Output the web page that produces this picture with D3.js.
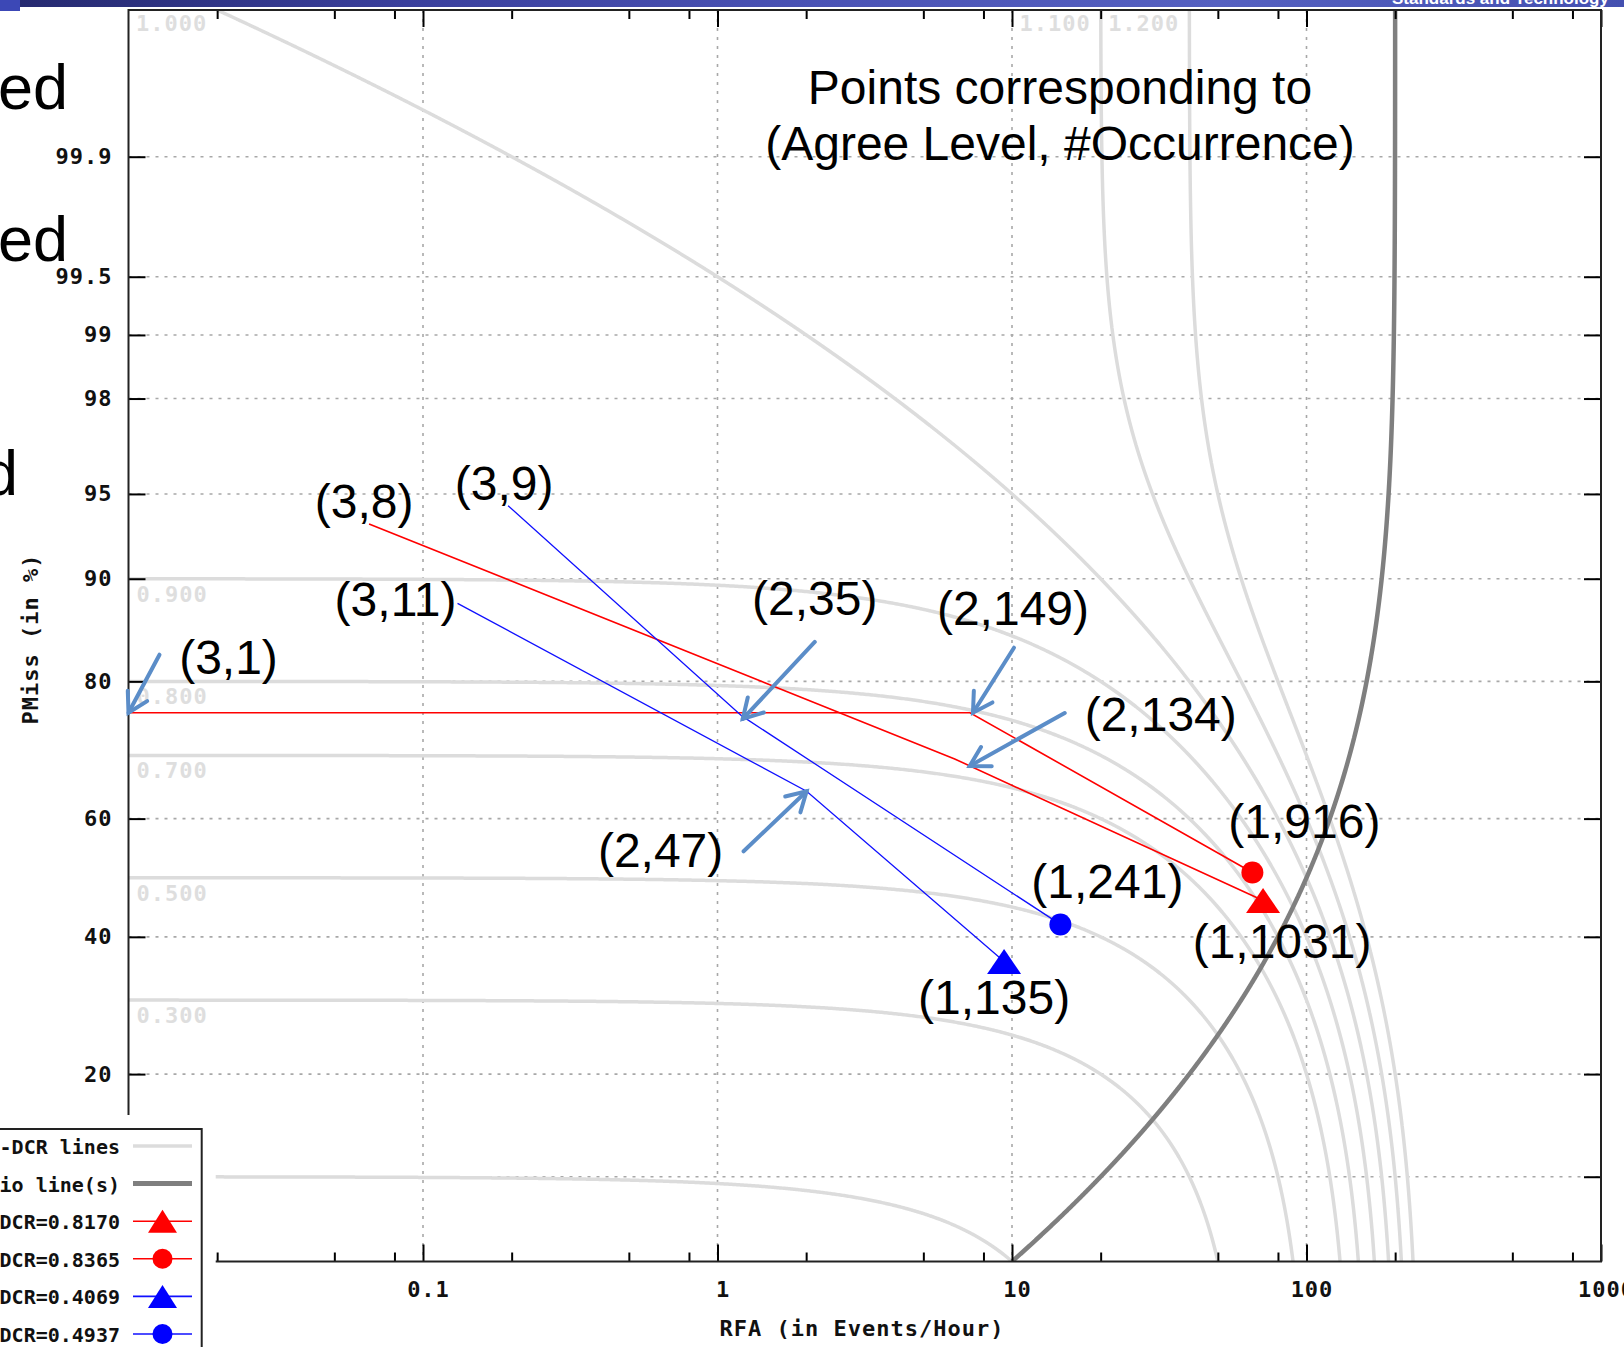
<!DOCTYPE html>
<html>
<head>
<meta charset="utf-8">
<script src="https://cdn.jsdelivr.net/npm/d3@7"></script>
<style>
  body { margin: 0; background: #fff; }
  svg { display: block; }
</style>
</head>
<body>
<svg id="chart" width="1624" height="1347"></svg>
<script>
// DET plot: miss probability (normal-deviate scale) against false-alarm rate (log scale),
// with iso-DCR cost lines, the miss/false-alarm ratio line and four system curves.

const beta = 0.005;                      // DCR = Pmiss + beta * RFA
const isoLevels = [0.1, 0.3, 0.5, 0.7, 0.8, 0.9, 1.0, 1.1, 1.2];

const xTickValues = [0.1, 1, 10, 100, 1000];
const xTickLabels = ["0.1", "1", "10", "100", "1000"];
const xMinorTicks = [0.02, 0.05, 0.08, 0.2, 0.5, 0.8, 2, 5, 8, 20, 50, 80, 200, 500, 800];
const yTickValues = [0.999, 0.995, 0.99, 0.98, 0.95, 0.9, 0.8, 0.6, 0.4, 0.2, 0.1];
const yTickLabels = ["99.9", "99.5", "99", "98", "95", "90", "80", "60", "40", "20", "10"];

const seriesNames  = ["DCR=0.8170", "DCR=0.8365", "DCR=0.4069", "DCR=0.4937"];
const agreeLevels  = [3, 2, 1];
const occurrences  = [[8, 134, 1031], [1, 149, 916], [11, 47, 135], [9, 35, 241]];
const rfaValues    = [[0.0656, 6.39, 71.2], [0.002, 7.2, 65.5], [0.131, 2.007, 9.4], [0.1945, 1.209, 14.6]];
const pmissValues  = [[0.9353, 0.6946, 0.461], [0.7603, 0.7603, 0.509], [0.8802, 0.6445, 0.3599], [0.9446, 0.756, 0.4207]];

const legendLines = ["-DCR lines", "io line(s)"];

// ---- styling ----
const seriesColor  = ["#ff0000", "#ff0000", "#1010ff", "#1010ff"];
const markerColor  = ["#ff0000", "#ff0000", "#0000ff", "#0000ff"];
const seriesSymbol = ["triangle", "circle", "triangle", "circle"];
const monoFont = "'DejaVu Sans Mono', monospace";
const sansFont = "'Liberation Sans', Arial, sans-serif";
const arrowColor = "#5b8dc8";

// label placement (pixel offsets from each point: label centre/baseline, optional arrow tail/tip)
const annotLayout = [
  [{l: [-5, -6]}, {l: [206, -28], tail: [110, -46], tip: [15, 7]}, {l: [19, 57]}],
  [{l: [100, -39], tail: [31, -58], tip: [0, 0]}, {l: [43, -88], tail: [44, -65], tip: [3, 0]}, {l: [52, -34]}],
  [{l: [-62, 13]}, {l: [-146, 76], tail: [-63, 60], tip: [0, 0]}, {l: [-10, 53]}],
  [{l: [-4, -6]}, {l: [73, -101], tail: [73, -74], tip: [1, 3]}, {l: [47, -26]}]
];

const W = 1624, H = 1347;
const plot = {left: 128.5, right: 1601, top: 10, bottom: 1261.5};
const legendBox = {x: -2, y: 1129, w: 203.7, h: 240, pad: 14};

// ---- normal deviate helpers ----
function probit(p) {
  const a = [-3.969683028665376e+01, 2.209460984245205e+02, -2.759285104469687e+02, 1.383577518672690e+02, -3.066479806614716e+01, 2.506628277459239e+00];
  const b = [-5.447609879822406e+01, 1.615858368580409e+02, -1.556989798598866e+02, 6.680131188771972e+01, -1.328068155288572e+01];
  const c = [-7.784894002430293e-03, -3.223964580411365e-01, -2.400758277161838e+00, -2.549671010624258e+00, 4.374664141464968e+00, 2.938163982698783e+00];
  const d = [7.784695709041462e-03, 3.224671290700398e-01, 2.445134137142996e+00, 3.754408661907416e+00];
  const pl = 0.02425, ph = 1 - pl;
  let q, r;
  if (p < pl) {
    q = Math.sqrt(-2 * Math.log(p));
    return (((((c[0]*q+c[1])*q+c[2])*q+c[3])*q+c[4])*q+c[5]) / ((((d[0]*q+d[1])*q+d[2])*q+d[3])*q+1);
  } else if (p <= ph) {
    q = p - 0.5; r = q * q;
    return (((((a[0]*r+a[1])*r+a[2])*r+a[3])*r+a[4])*r+a[5])*q / (((((b[0]*r+b[1])*r+b[2])*r+b[3])*r+b[4])*r+1);
  }
  q = Math.sqrt(-2 * Math.log(1 - p));
  return -(((((c[0]*q+c[1])*q+c[2])*q+c[3])*q+c[4])*q+c[5]) / ((((d[0]*q+d[1])*q+d[2])*q+d[3])*q+1);
}
function normCdf(z) {
  const t = 1 / (1 + 0.2316419 * Math.abs(z));
  const poly = t * (0.319381530 + t * (-0.356563782 + t * (1.781477937 + t * (-1.821255978 + t * 1.330274429))));
  const v = 1 - Math.exp(-z * z / 2) / Math.sqrt(2 * Math.PI) * poly;
  return z >= 0 ? v : 1 - v;
}
function probitScale(domain, range) {
  const lin = d3.scaleLinear().domain(domain.map(probit)).range(range);
  const s = p => lin(probit(p));
  s.domain = () => domain.slice();
  s.range = () => range.slice();
  s.copy = () => probitScale(domain, range);
  s.invert = py => normCdf(lin.invert(py));
  return s;
}

const x = d3.scaleLog().domain([0.01, 1000]).range([plot.left, plot.right]);
const y = probitScale([0.05, 0.9999], [plot.bottom, plot.top]);

const svg = d3.select("#chart");
const defs = svg.append("defs");
defs.append("clipPath").attr("id", "plotClip").append("rect")
  .attr("x", plot.left).attr("y", plot.top)
  .attr("width", plot.right - plot.left).attr("height", plot.bottom - plot.top);
defs.append("clipPath").attr("id", "bannerClip").append("rect")
  .attr("x", 0).attr("y", 0).attr("width", W).attr("height", 7);
const grad = defs.append("linearGradient").attr("id", "bannerGrad").attr("x1", 0).attr("x2", 1).attr("y1", 0).attr("y2", 0);
[["0", "#25296e"], ["0.25", "#3a3f9c"], ["0.5", "#4a52b4"], ["0.75", "#5560c0"], ["1", "#4450b0"]]
  .forEach(([o, c]) => grad.append("stop").attr("offset", o).attr("stop-color", c));

// ---- slide banner strip ----
svg.append("rect").attr("x", 0).attr("y", 0).attr("width", W).attr("height", 7).attr("fill", "url(#bannerGrad)");
svg.append("rect").attr("x", 0).attr("y", 0).attr("width", 20).attr("height", 11).attr("fill", "#3c48b6");
svg.append("text").attr("clip-path", "url(#bannerClip)")
  .attr("x", 1392).attr("y", 4).attr("fill", "#ffffff")
  .attr("font-family", sansFont).attr("font-weight", "bold").attr("font-size", 17)
  .text("Standards and Technology");

// ---- grid ----
const grid = svg.append("g").attr("stroke", "#a8a8a8").attr("stroke-width", 1.6).attr("stroke-dasharray", "3,6");
grid.selectAll("line.gv").data(xTickValues.filter(v => v < 1000)).join("line")
  .attr("x1", d => x(d)).attr("x2", d => x(d)).attr("y1", plot.top).attr("y2", plot.bottom);
grid.selectAll("line.gh").data(yTickValues).join("line")
  .attr("x1", plot.left).attr("x2", plot.right).attr("y1", d => y(d)).attr("y2", d => y(d));

// ---- iso-DCR lines ----
const pLo = 0.05, pHi = 0.9999;
function sampleCurve(pOfR, rOfP, rMin, rMax) {
  const pts = [];
  const n = 700;
  for (let i = 0; i <= n; i++) {
    const r = Math.pow(10, Math.log10(rMin) + i / n * (Math.log10(rMax) - Math.log10(rMin)));
    pts.push([r, pOfR(r)]);
  }
  for (let py = plot.top; py <= plot.bottom; py += 1) {
    const p = y.invert(py);
    pts.push([rOfP(p), p]);
  }
  return pts.filter(d => d[0] >= 0.01 && d[0] <= 1000 && d[1] >= pLo && d[1] <= pHi)
            .sort((u, v) => u[0] - v[0]);
}
const curveLine = d3.line().x(d => x(d[0])).y(d => y(d[1]));
const plotArea = svg.append("g").attr("clip-path", "url(#plotClip)");

const isoData = isoLevels.map(L => {
  const rMin = Math.max(0.01, (L - pHi) / beta);
  const rMax = (L - pLo) / beta;
  return {L, pts: sampleCurve(r => L - beta * r, p => (L - p) / beta, rMin, rMax)};
});
plotArea.append("g").selectAll("path").data(isoData).join("path")
  .attr("d", d => curveLine(d.pts))
  .attr("fill", "none").attr("stroke", "#dcdcdc").attr("stroke-width", 3.5);

// ratio line: equal miss and false-alarm cost
const ratioPts = sampleCurve(r => beta * r, p => p / beta, pLo / beta, pHi / beta);
plotArea.append("path").attr("d", curveLine(ratioPts))
  .attr("fill", "none").attr("stroke", "#7f7f7f").attr("stroke-width", 4.5);

// iso-DCR labels (those that fall behind the legend are left out)
const fmt3 = d3.format(".3f");
const isoLabelData = isoData.map(d => {
  const s = d.pts[0];
  const sx = x(s[0]), sy = y(s[1]);
  return sy <= plot.top + 1
    ? {L: d.L, x: sx - 10, y: plot.top + 21, anchor: "end"}
    : {L: d.L, x: plot.left + 8, y: sy + 23, anchor: "start"};
}).filter(d => d.y < legendBox.y - legendBox.pad);
svg.append("g").selectAll("text").data(isoLabelData).join("text")
  .attr("x", d => d.x).attr("y", d => d.y).attr("text-anchor", d => d.anchor)
  .attr("font-family", monoFont).attr("font-weight", "bold").attr("font-size", 22)
  .attr("letter-spacing", 1).attr("fill", "#dedede")
  .text(d => fmt3(d.L));

// ---- system curves ----
const seriesData = seriesNames.map((name, i) => ({
  name, i,
  pts: agreeLevels.map((a, j) => ({agree: a, occ: occurrences[i][j], rfa: rfaValues[i][j], pmiss: pmissValues[i][j]}))
}));
const ptLine = d3.line().x(d => x(d.rfa)).y(d => y(d.pmiss));
plotArea.append("g").selectAll("path").data(seriesData).join("path")
  .attr("d", d => ptLine(d.pts))
  .attr("fill", "none").attr("stroke", d => seriesColor[d.i])
  .attr("stroke-width", d => d.i < 2 ? 1.6 : 1.3);

function drawSymbol(g, kind, cx, cy, color, w, h, r) {
  if (kind === "triangle") {
    g.append("path")
      .attr("d", `M${cx},${cy - h / 2}L${cx + w / 2},${cy + h / 2}L${cx - w / 2},${cy + h / 2}Z`)
      .attr("fill", color);
  } else {
    g.append("circle").attr("cx", cx).attr("cy", cy).attr("r", r).attr("fill", color);
  }
}
const markG = svg.append("g");
seriesData.forEach(s => {
  const last = s.pts[s.pts.length - 1];
  drawSymbol(markG, seriesSymbol[s.i], x(last.rfa), y(last.pmiss), markerColor[s.i], 34, 25, 11);
});

// ---- axes, ticks, border ----
function styleAxis(g) {
  g.select(".domain").remove();
  g.selectAll(".tick line").attr("stroke", "#000").attr("stroke-width", 2);
  g.selectAll("text").attr("font-family", monoFont).attr("font-weight", "bold")
    .attr("font-size", 22).attr("letter-spacing", 1).attr("fill", "#111");
}
svg.append("g").attr("transform", `translate(0,${plot.bottom})`)
  .call(d3.axisBottom(x).tickValues(xTickValues).tickFormat((d, i) => xTickLabels[i]).tickSize(-17).tickPadding(20))
  .call(styleAxis)
  .selectAll("text").attr("dx", 5);
svg.append("g").attr("transform", `translate(0,${plot.bottom})`)
  .call(d3.axisBottom(x).tickValues(xMinorTicks).tickFormat("").tickSize(-9)).call(styleAxis);
svg.append("g").attr("transform", `translate(0,${plot.top})`)
  .call(d3.axisTop(x).tickValues(xTickValues).tickFormat("").tickSize(-17)).call(styleAxis);
svg.append("g").attr("transform", `translate(0,${plot.top})`)
  .call(d3.axisTop(x).tickValues(xMinorTicks).tickFormat("").tickSize(-9)).call(styleAxis);
// left tick labels that sit behind the legend box are not drawn
svg.append("g").attr("transform", `translate(${plot.left},0)`)
  .call(d3.axisLeft(y).tickValues(yTickValues)
    .tickFormat((d, i) => y(d) < legendBox.y - legendBox.pad ? yTickLabels[i] : "")
    .tickSize(-17).tickPadding(16))
  .call(styleAxis);
svg.append("g").attr("transform", `translate(${plot.right},0)`)
  .call(d3.axisRight(y).tickValues(yTickValues).tickFormat("").tickSize(-17)).call(styleAxis);

svg.append("rect")
  .attr("x", plot.left).attr("y", plot.top)
  .attr("width", plot.right - plot.left).attr("height", plot.bottom - plot.top)
  .attr("fill", "none").attr("stroke", "#222").attr("stroke-width", 2);

// axis titles
svg.append("text").attr("x", 862).attr("y", 1336).attr("text-anchor", "middle")
  .attr("font-family", monoFont).attr("font-weight", "bold").attr("font-size", 22).attr("letter-spacing", 1)
  .attr("fill", "#111").text("RFA (in Events/Hour)");
svg.append("text").attr("transform", "translate(38,639) rotate(-90)").attr("text-anchor", "middle")
  .attr("font-family", monoFont).attr("font-weight", "bold").attr("font-size", 22).attr("letter-spacing", 1)
  .attr("fill", "#111").text("PMiss (in %)");

// ---- annotations ----
const title = svg.append("text").attr("font-family", sansFont).attr("font-size", 48)
  .attr("text-anchor", "middle").attr("fill", "#000");
title.append("tspan").attr("x", 1060).attr("y", 104).text("Points corresponding to");
title.append("tspan").attr("x", 1060).attr("y", 160).text("(Agree Level, #Occurrence)");

const annG = svg.append("g");
function arrow(g, x1, y1, x2, y2) {
  const ang = Math.atan2(y1 - y2, x1 - x2);
  const len = 22, spread = Math.PI / 6;
  g.append("line").attr("x1", x1).attr("y1", y1).attr("x2", x2).attr("y2", y2)
    .attr("stroke", arrowColor).attr("stroke-width", 4).attr("stroke-linecap", "round");
  g.append("path")
    .attr("d", `M${x2 + len * Math.cos(ang - spread)},${y2 + len * Math.sin(ang - spread)}L${x2},${y2}L${x2 + len * Math.cos(ang + spread)},${y2 + len * Math.sin(ang + spread)}`)
    .attr("fill", "none").attr("stroke", arrowColor).attr("stroke-width", 4)
    .attr("stroke-linejoin", "miter").attr("stroke-linecap", "round");
}
seriesData.forEach(s => {
  s.pts.forEach((p, j) => {
    const lay = annotLayout[s.i][j];
    const px = Math.max(plot.left, x(p.rfa)), py = y(p.pmiss);
    annG.append("text")
      .attr("x", px + lay.l[0]).attr("y", py + lay.l[1])
      .attr("text-anchor", "middle").attr("font-family", sansFont).attr("font-size", 48).attr("fill", "#000")
      .text(`(${p.agree},${p.occ})`);
    if (lay.tail) arrow(annG, px + lay.tail[0], py + lay.tail[1], px + lay.tip[0], py + lay.tip[1]);
  });
});

// ---- legend ----
const leg = svg.append("g");
leg.append("rect").attr("x", -10).attr("y", legendBox.y - legendBox.pad)
  .attr("width", legendBox.w + 22).attr("height", 260).attr("fill", "#fff");
leg.append("rect").attr("x", legendBox.x).attr("y", legendBox.y).attr("width", legendBox.w).attr("height", legendBox.h)
  .attr("fill", "none").attr("stroke", "#222").attr("stroke-width", 2);
const legLabels = legendLines.concat(seriesNames);
legLabels.forEach((lab, k) => {
  const ly = 1146 + k * 37.6;
  leg.append("text").attr("x", 120).attr("y", ly + 8).attr("text-anchor", "end")
    .attr("font-family", monoFont).attr("font-weight", "bold").attr("font-size", 20).attr("fill", "#111")
    .text(lab);
  let stroke = "#dcdcdc", sw = 3.5;
  if (k === 1) { stroke = "#7f7f7f"; sw = 5; }
  if (k >= 2) { stroke = seriesColor[k - 2]; sw = 1.6; }
  leg.append("line").attr("x1", 133).attr("x2", 192).attr("y1", ly).attr("y2", ly)
    .attr("stroke", stroke).attr("stroke-width", sw);
  if (k >= 2) drawSymbol(leg, seriesSymbol[k - 2], 162.5, ly, markerColor[k - 2], 29, 23, 10);
});

// ---- slide text fragments along the left margin ----
const side = svg.append("g").attr("font-family", sansFont).attr("font-size", 63).attr("fill", "#000").attr("text-anchor", "end");
side.append("text").attr("x", 68).attr("y", 109).text("ed");
side.append("text").attr("x", 68).attr("y", 261).text("ed");
side.append("text").attr("x", 18).attr("y", 495).text("d");
</script>
</body>
</html>
